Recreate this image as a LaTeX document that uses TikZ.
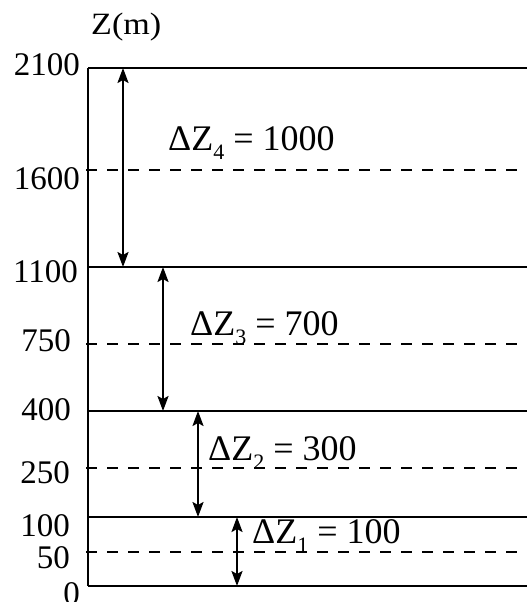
\documentclass[tikz,border=0pt]{standalone}
\usepackage{fontspec}
\setmainfont{Liberation Serif}
\usetikzlibrary{arrows.meta}
\newcommand\dzlab[2]{ΔZ\raisebox{-0.26em}{\fontsize{22}{22}\selectfont #1} = #2}
\begin{document}
\begin{tikzpicture}[x=1pt,y=-1pt,
  level/.style={line width=2.6pt},
  sublevel/.style={line width=2.6pt, dash pattern=on 11pt off 10pt},
  dim/.style={line width=2.2pt, {Stealth[length=15pt,width=11pt,inset=3pt]}-{Stealth[length=15pt,width=11pt,inset=3pt]}},
  tick/.style={font=\fontsize{33}{33}\selectfont, inner sep=0pt, anchor=base east},
  dlab/.style={font=\fontsize{36}{36}\selectfont, inner sep=0pt, anchor=base west}]
\useasboundingbox (0,0) rectangle (531,602);
% level coordinates
\coordinate (A2100) at (88,68);   \coordinate (B2100) at (527,68);
\coordinate (A1600) at (86,170);  \coordinate (B1600) at (527,170);
\coordinate (A1100) at (88,267);  \coordinate (B1100) at (527,267);
\coordinate (A750)  at (86,344);  \coordinate (B750)  at (527,344);
\coordinate (A400)  at (88,411);  \coordinate (B400)  at (527,411);
\coordinate (A250)  at (86,468);  \coordinate (B250)  at (527,468);
\coordinate (A100)  at (88,517);  \coordinate (B100)  at (527,517);
\coordinate (A50)   at (86,552);  \coordinate (B50)   at (527,552);
\coordinate (A0)    at (88,586);  \coordinate (B0)    at (527,586);
% axis
\draw[level] (A2100) -- (A0);
% solid levels
\draw[level] (A2100) -- (B2100);
\draw[level] (A1100) -- (B1100);
\draw[level] (A400) -- (B400);
\draw[level] (A100) -- (B100);
\draw[level] (A0) -- (B0);
% dashed levels
\draw[sublevel] (A1600) -- (B1600);
\draw[sublevel] (A750) -- (B750);
\draw[sublevel] (A250) -- (B250);
\draw[sublevel] (A50) -- (B50);
% dimension arrows
\coordinate (d4t) at (123,68);  \coordinate (d4b) at (123,267);
\coordinate (d3t) at (163,267); \coordinate (d3b) at (163,411);
\coordinate (d2t) at (198,411); \coordinate (d2b) at (198,517);
\coordinate (d1t) at (237,517); \coordinate (d1b) at (237,586);
\draw[dim] (d4t) -- (d4b);
\draw[dim] (d3t) -- (d3b);
\draw[dim] (d2t) -- (d2b);
\draw[dim] (d1t) -- (d1b);
% tick labels
\node[tick] (t2100) at (80,75)  {2100};
\node[tick] (t1600) at (80,189) {1600};
\node[tick] (t1100) at (78,282) {1100};
\node[tick] (t750)  at (71,351) {750};
\node[tick] (t400)  at (71,420) {400};
\node[tick] (t250)  at (70,483) {250};
\node[tick] (t100)  at (70,536) {100};
\node[tick] (t50)   at (70,568) {50};
\node[tick] (t0)    at (80,604) {0};
% axis title
\node[anchor=base west, inner sep=0pt, font=\fontsize{31}{31}\selectfont] (ztitle) at (91,35) {\scalebox{1.1}[1]{Z(m)}};
% dimension labels
\node[dlab] (l4) at (168,150) {\dzlab{4}{1000}};
\node[dlab] (l3) at (190,335) {\dzlab{3}{700}};
\node[dlab] (l2) at (208,460) {\dzlab{2}{300}};
\node[dlab] (l1) at (252,543) {\dzlab{1}{100}};
\end{tikzpicture}
\end{document}
